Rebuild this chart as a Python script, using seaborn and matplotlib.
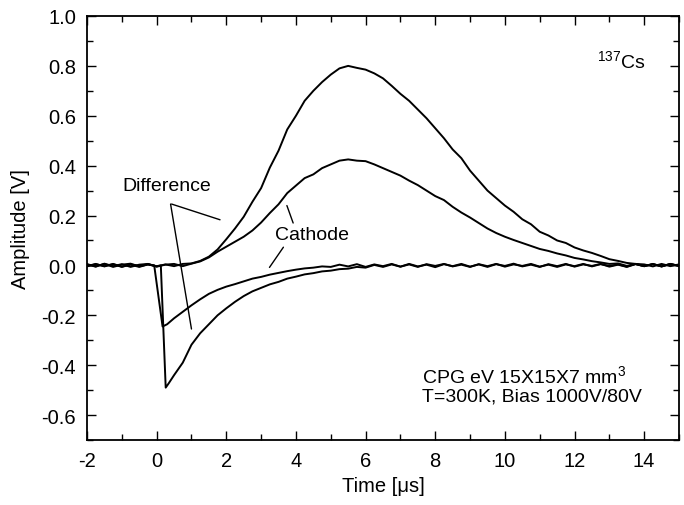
import numpy as np
import pandas as pd
import matplotlib
matplotlib.use("Agg")
import matplotlib.pyplot as plt
import seaborn as sns

# ---------------- data ----------------
t_pos = [-2.0, -1.75, -1.5, -1.25, -1.0, -0.75, -0.5, -0.25, 0.0, 0.25, 0.5, 0.75,
         1.0, 1.25, 1.5, 1.75, 2.0, 2.25, 2.5, 2.75, 3.0, 3.25, 3.5, 3.75,
         4.0, 4.25, 4.5, 4.75, 5.0, 5.25, 5.5, 5.75, 6.0, 6.25, 6.5, 6.75,
         7.0, 7.25, 7.5, 7.75, 8.0, 8.25, 8.5, 8.75, 9.0, 9.25, 9.5, 9.75,
         10.0, 10.25, 10.5, 10.75, 11.0, 11.25, 11.5, 11.75, 12.0, 12.25, 12.5, 12.75,
         13.0, 13.25, 13.5, 13.75, 14.0, 14.25, 14.5, 14.75, 15.0]

difference_pos = [0.004, -0.005, 0.007, -0.003, 0.005, -0.006, 0.003, 0.006, -0.004, 0.004, -0.003, 0.006,
                  0.008, 0.018, 0.035, 0.064, 0.105, 0.148, 0.195, 0.255, 0.31, 0.392, 0.46, 0.545,
                  0.60, 0.66, 0.70, 0.735, 0.765, 0.79, 0.80, 0.792, 0.785, 0.77, 0.75, 0.72,
                  0.688, 0.66, 0.625, 0.59, 0.55, 0.51, 0.465, 0.43, 0.38, 0.34, 0.30, 0.27,
                  0.24, 0.215, 0.185, 0.165, 0.135, 0.12, 0.10, 0.09, 0.072, 0.06, 0.05, 0.038,
                  0.025, 0.018, 0.01, 0.006, 0.004, -0.004, 0.006, -0.003, 0.004]

cathode_pos = [-0.003, 0.006, -0.004, 0.005, -0.006, 0.004, -0.002, 0.005, -0.005, 0.003, 0.006, -0.003,
               0.007, 0.016, 0.032, 0.055, 0.075, 0.095, 0.115, 0.14, 0.172, 0.21, 0.245, 0.29,
               0.32, 0.35, 0.365, 0.39, 0.405, 0.42, 0.425, 0.42, 0.418, 0.405, 0.39, 0.375,
               0.36, 0.34, 0.322, 0.30, 0.278, 0.262, 0.235, 0.212, 0.192, 0.17, 0.148, 0.13,
               0.115, 0.102, 0.09, 0.078, 0.066, 0.058, 0.048, 0.04, 0.03, 0.024, 0.017, 0.012,
               0.006, 0.008, -0.002, 0.006, -0.003, 0.005, -0.004, 0.006, -0.002]

t_diff_neg = [-2.0, -1.75, -1.5, -1.25, -1.0, -0.75, -0.5, -0.25, 0.0, 0.12, 0.26, 0.35,
              0.5, 0.75, 1.0, 1.25, 1.5, 1.75, 2.0, 2.25, 2.5, 2.75, 3.0, 3.25,
              3.5, 3.75, 4.0, 4.25, 4.5, 4.75, 5.0, 5.25, 5.5, 5.75, 6.0, 6.25,
              6.5, 6.75, 7.0, 7.25, 7.5, 7.75, 8.0, 8.25, 8.5, 8.75, 9.0, 9.25,
              9.5, 9.75, 10.0, 10.25, 10.5, 10.75, 11.0, 11.25, 11.5, 11.75, 12.0, 12.25,
              12.5, 12.75, 13.0, 13.25, 13.5, 13.75, 14.0, 14.25, 14.5, 14.75, 15.0]
difference_neg = [0.005, -0.004, 0.006, -0.006, 0.003, 0.007, -0.004, 0.004, -0.003, 0.0, -0.49, -0.472,
                  -0.44, -0.39, -0.318, -0.272, -0.236, -0.2, -0.172, -0.146, -0.123, -0.104, -0.09, -0.076,
                  -0.066, -0.053, -0.045, -0.036, -0.031, -0.024, -0.021, -0.015, -0.013, -0.006, -0.009, 0.002,
                  -0.006, 0.004, -0.005, 0.006, -0.004, 0.003, -0.007, 0.005, -0.003, 0.006, -0.005, 0.004,
                  -0.006, 0.005, -0.002, 0.007, -0.004, 0.003, -0.006, 0.005, -0.003, 0.006, -0.005, 0.004,
                  -0.002, 0.006, -0.005, 0.003, -0.006, 0.005, -0.003, 0.006, -0.004, 0.005, -0.002]

t_cath_neg = [-2.0, -1.75, -1.5, -1.25, -1.0, -0.75, -0.5, -0.25, -0.07, 0.17, 0.3, 0.5,
              0.75, 1.0, 1.25, 1.5, 1.75, 2.0, 2.25, 2.5, 2.75, 3.0, 3.25, 3.5,
              3.75, 4.0, 4.25, 4.5, 4.75, 5.0, 5.25, 5.5, 5.75, 6.0, 6.25, 6.5,
              6.75, 7.0, 7.25, 7.5, 7.75, 8.0, 8.25, 8.5, 8.75, 9.0, 9.25, 9.5,
              9.75, 10.0, 10.25, 10.5, 10.75, 11.0, 11.25, 11.5, 11.75, 12.0, 12.25, 12.5,
              12.75, 13.0, 13.25, 13.5, 13.75, 14.0, 14.25, 14.5, 14.75, 15.0]
cathode_neg = [-0.004, 0.005, -0.003, 0.006, -0.005, 0.003, -0.006, 0.004, 0.0, -0.245, -0.236, -0.212,
               -0.186, -0.16, -0.136, -0.114, -0.098, -0.085, -0.075, -0.064, -0.053, -0.046, -0.037, -0.03,
               -0.023, -0.017, -0.012, -0.009, -0.004, -0.006, 0.003, -0.004, 0.005, -0.006, 0.004, -0.003,
               0.006, -0.005, 0.004, -0.006, 0.005, -0.002, 0.006, -0.004, 0.003, -0.006, 0.005, -0.003,
               0.006, -0.005, 0.004, -0.002, 0.006, -0.005, 0.003, -0.006, 0.004, -0.003, 0.006, -0.004,
               0.005, -0.002, 0.004, -0.005, 0.006, -0.003, 0.005, -0.004, 0.006, -0.002]

x_ticks = [-2, 0, 2, 4, 6, 8, 10, 12, 14]
y_ticks = [-0.6, -0.4, -0.2, 0.0, 0.2, 0.4, 0.6, 0.8, 1.0]

# ---------------- style ----------------
sns.set_style("ticks")
plt.rcParams['font.family'] = ['Liberation Sans', 'DejaVu Sans']
plt.rcParams['mathtext.fontset'] = 'custom'
plt.rcParams['mathtext.rm'] = 'Liberation Sans'
plt.rcParams['mathtext.it'] = 'Liberation Sans'
for k in ['text.color', 'axes.labelcolor', 'xtick.color', 'ytick.color', 'axes.edgecolor']:
    plt.rcParams[k] = 'black'

fig = plt.figure(figsize=(6.84, 5.06), dpi=100)
W, H = 684, 506
ax = fig.add_axes([87 / W, 1 - 441 / H, (679 - 87) / W, (441 - 17) / H])

curves = [(t_pos, difference_pos), (t_pos, cathode_pos),
          (t_diff_neg, difference_neg), (t_cath_neg, cathode_neg)]
for tx, vy in curves:
    df = pd.DataFrame({"t": tx, "v": vy})
    sns.lineplot(data=df, x="t", y="v", ax=ax, color="black", lw=1.4,
                 sort=False, estimator=None)

ax.set_xlim(-2, 15)
ax.set_ylim(-0.7, 1.0)
ax.set_xticks(x_ticks)
ax.set_xticklabels([str(v) for v in x_ticks])
ax.set_yticks(y_ticks)
ax.set_yticklabels([f"{v:.1f}" for v in y_ticks])
ax.xaxis.set_minor_locator(matplotlib.ticker.MultipleLocator(1))
ax.yaxis.set_minor_locator(matplotlib.ticker.MultipleLocator(0.1))
ax.tick_params(which='both', direction='in', top=True, right=True, width=1.0,
               color='black', labelcolor='black', labelsize=14.5)
ax.tick_params(axis='x', which='major', length=6.5, pad=8)
ax.tick_params(axis='y', which='major', length=6.5, pad=8)
ax.tick_params(which='minor', length=4)
for s in ax.spines.values():
    s.set_linewidth(1.3)
    s.set_color('black')
    s.set_visible(True)

ax.set_xlabel("Time [μs]", fontsize=14.5, labelpad=4)
ax.set_ylabel("Amplitude [V]", fontsize=14.5, labelpad=8)

# annotations
ax.text(0.29, 0.32, "Difference", fontsize=14, ha='center', va='center')
ax.plot([0.43, 1.82], [0.246, 0.183], color='black', lw=1.0)
ax.plot([0.40, 1.0], [0.246, -0.255], color='black', lw=1.0)
ax.text(4.45, 0.122, "Cathode", fontsize=14, ha='center', va='center')
ax.plot([3.74, 3.92], [0.24, 0.17], color='black', lw=1.0)
ax.plot([3.64, 3.24], [0.073, -0.008], color='black', lw=1.0)

ax.text(14.05, 0.795, r"$^{137}$Cs", fontsize=14, ha='right', va='baseline')
ax.text(7.61, -0.469, r"CPG eV 15X15X7 mm$^3$", fontsize=14, ha='left', va='baseline')
ax.text(7.61, -0.543, "T=300K, Bias 1000V/80V", fontsize=14, ha='left', va='baseline')

fig.savefig("out.png", dpi=100)
